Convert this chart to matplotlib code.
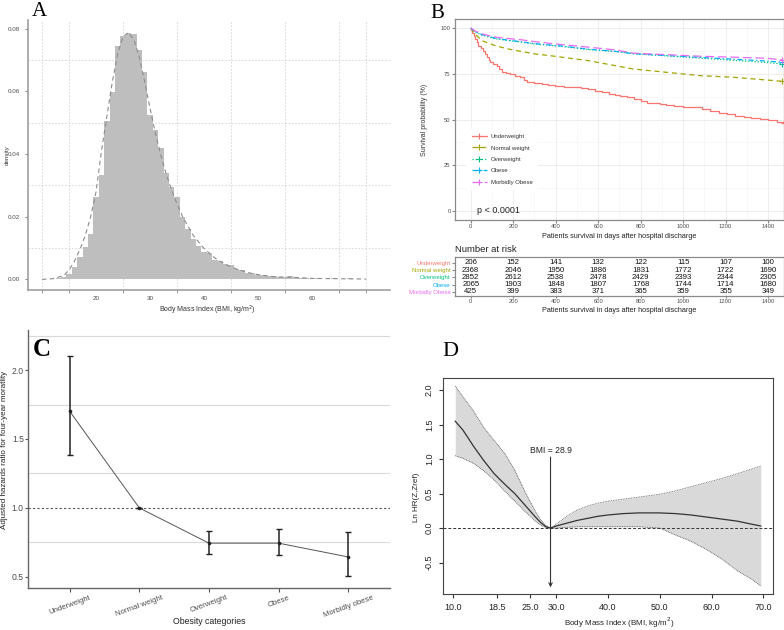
import matplotlib

matplotlib.use("Agg")

import matplotlib.pyplot as plt
import numpy as np
from matplotlib.lines import Line2D

# ---- data -----------------------------------------------------------------
# A: BMI histogram (bins of width 1, starting at 10.5) and density curve
hist_density = [
    0.0001, 0.0002, 0.0003, 0.0006, 0.0017, 0.0038, 0.0070, 0.0102, 0.0145, 0.0262,
    0.0333, 0.0506, 0.0599, 0.0745, 0.0777, 0.0787, 0.0783, 0.0732, 0.0663, 0.0524,
    0.0477, 0.0418, 0.0338, 0.0296, 0.0262, 0.0200, 0.0160, 0.0128, 0.0106, 0.0086,
    0.0084, 0.0062, 0.0058, 0.0048, 0.0046, 0.0032, 0.0031, 0.0021, 0.0020, 0.0014,
    0.0013, 0.0011, 0.0010, 0.0006, 0.0006, 0.0010, 0.0009, 0.0005, 0.0003, 0.0002,
    0.0003, 0.0002, 0.0002, 0.0003, 0.0002, 0.0002, 0.0003, 0.0002, 0.0002, 0.0002,
]
dens_x = [10, 12, 14, 15, 16, 17, 18, 19, 20, 21, 22, 23, 24, 25, 26, 27, 28, 29, 30,
          31, 32, 33, 34, 35, 36, 38, 40, 42, 44, 46, 48, 50, 53, 56, 60, 65, 70]
dens_y = [0.0, 0.0002, 0.0012, 0.0030, 0.0058, 0.0095, 0.0140, 0.0200, 0.0280, 0.0410,
          0.0520, 0.0630, 0.0720, 0.0775, 0.0788, 0.0765, 0.0710, 0.0630, 0.0545, 0.0465,
          0.0395, 0.0335, 0.0285, 0.0240, 0.0200, 0.0140, 0.0098, 0.0068, 0.0047, 0.0033,
          0.0022, 0.0015, 0.0008, 0.0007, 0.0003, 0.0002, 0.0001]

# B: Kaplan-Meier curves
groups = ["Underweight", "Normal weight", "Overweight", "Obese", "Morbidly Obese"]
group_colors = ["#F8766D", "#A3A500", "#00BF7D", "#00B0F6", "#E76BF3"]
under_t = [0, 1, 8, 14, 20, 28, 36, 48, 60, 68, 75, 84, 91, 105, 122, 134, 146, 165, 185,
           210, 232, 250, 264, 300, 335, 365, 397, 440, 492, 520, 554, 585, 618, 650, 680,
           704, 735, 767, 800, 830, 860, 892, 920, 955, 1000, 1050, 1090, 1128, 1170, 1207,
           1245, 1285, 1320, 1364, 1400, 1443, 1474]
under_s = [100, 99, 97.5, 95.8, 94.1, 92.2, 90.4, 89.0, 87.7, 86.0, 84.0, 82.6, 81.3, 80.5,
           79.5, 77.7, 75.8, 75.4, 74.9, 74.0, 73.1, 71.7, 70.3, 69.9, 69.4, 69.0, 68.5,
           68.0, 67.6, 67.1, 66.6, 65.7, 64.8, 64.1, 63.4, 63.0, 62.1, 61.2, 60.2, 59.3,
           58.9, 58.4, 58.0, 57.5, 57.0, 56.6, 55.7, 54.7, 53.8, 52.9, 52.0, 51.1, 50.6,
           50.2, 49.5, 48.9, 48.0]
km_t = [0, 20, 52, 115, 177, 240, 303, 397, 429, 554, 680, 767, 924, 1081, 1238, 1395, 1466]
normal_s = [100, 96.9, 93.2, 90.4, 88.6, 87.2, 85.9, 84.6, 84.1, 82.2, 79.5, 77.6, 75.8,
            74.0, 73.1, 71.6, 70.9]
over_s = [100, 98.0, 96.2, 94.2, 93.2, 92.3, 91.3, 90.3, 90.0, 88.3, 87.2, 86.0, 84.8,
          83.6, 82.4, 81.2, 80.4]
obese_s = [100, 98.2, 96.5, 94.5, 93.4, 92.5, 91.5, 90.5, 90.2, 88.5, 87.3, 86.0, 85.0,
           84.0, 83.0, 82.0, 81.3]
morbid_s = [100, 98.5, 96.9, 95.1, 94.3, 93.6, 92.6, 91.4, 91.0, 89.6, 88.1, 86.3, 85.5,
            84.6, 84.1, 83.5, 82.6]
risk_times = [0, 200, 400, 600, 800, 1000, 1200, 1400]
risk_table = [
    [206, 152, 141, 132, 122, 115, 107, 100],
    [2368, 2046, 1950, 1886, 1831, 1772, 1722, 1690],
    [2852, 2612, 2538, 2478, 2429, 2393, 2344, 2305],
    [2065, 1903, 1848, 1807, 1768, 1744, 1714, 1680],
    [425, 399, 383, 371, 365, 359, 355, 349],
]

# C: adjusted hazard ratios
categories = ["Underweight", "Normal weight", "Overweight", "Obese", "Morbidly obese"]
hr = [1.70, 1.00, 0.745, 0.745, 0.645]
hr_low = [1.385, 1.00, 0.665, 0.66, 0.51]
hr_high = [2.10, 1.00, 0.835, 0.85, 0.825]

# D: restricted cubic spline of ln HR
spline_x = [10.5, 12, 14, 16, 18, 20, 22, 24, 26, 27, 28, 28.9, 30, 32, 34, 36, 38, 40,
            43, 46, 50, 53, 56, 59, 62, 65, 67.5, 69.5]
spline_y = [1.55, 1.42, 1.19, 0.98, 0.79, 0.64, 0.50, 0.33, 0.16, 0.08, 0.02, 0.0, 0.03,
            0.07, 0.11, 0.14, 0.17, 0.19, 0.21, 0.22, 0.22, 0.21, 0.19, 0.16, 0.13, 0.10,
            0.06, 0.03]
spline_hi = [2.06, 1.90, 1.70, 1.46, 1.27, 1.09, 0.84, 0.52, 0.24, 0.12, 0.04, 0.0, 0.06,
             0.17, 0.26, 0.32, 0.36, 0.39, 0.42, 0.45, 0.49, 0.54, 0.60, 0.66, 0.72, 0.79,
             0.85, 0.90]
spline_lo = [1.05, 1.01, 0.94, 0.83, 0.70, 0.54, 0.39, 0.24, 0.10, 0.04, 0.01, 0.0, 0.0,
             0.01, 0.02, 0.02, 0.02, 0.02, 0.02, 0.02, 0.0, -0.10, -0.19, -0.31, -0.45,
             -0.62, -0.73, -0.84]
bmi_ref = 28.9

# ---- figure ---------------------------------------------------------------
W, H = 784, 630
fig = plt.figure(figsize=(W / 100, H / 100), dpi=100)
plt.rcParams["font.family"] = ["Liberation Sans", "DejaVu Sans"]
SERIF = "Liberation Serif"
TXT = "#4d4d4d"


def rect(l, t, r, b):
    return [l / W, 1 - b / H, (r - l) / W, (b - t) / H]


def ftext(x, y, s, **kw):
    fig.text(x / W, 1 - y / H, s, **kw)


# ---- A --------------------------------------------------------------------
ax = fig.add_axes(rect(28, 20, 390, 290))
hist_left = 10.5 + np.arange(len(hist_density))
ax.bar(hist_left, hist_density, width=1.0, align="edge", color="#bebebe", linewidth=0)
ax.plot(dens_x, dens_y, linestyle=(0, (4, 3)), color="#8c8c8c", linewidth=0.8)
ax.set_xlim(7.4, 74.4)
ax.set_ylim(-0.0034, 0.0828)
for s in ("top", "right"):
    ax.spines[s].set_visible(False)
for s in ("left", "bottom"):
    ax.spines[s].set_color("#a0a0a0")
    ax.spines[s].set_linewidth(1.2)
ax.set_xticks([20, 30, 40, 50, 60])
ax.set_xticks([10, 15, 25, 35, 45, 55, 65, 70], minor=True)
ax.set_yticks([0, 0.02, 0.04, 0.06, 0.08])
ax.set_yticklabels(["0.00", "0.02", "0.04", "0.06", "0.08"])
ax.set_yticks([0.01, 0.03, 0.05, 0.07], minor=True)
ax.tick_params(axis="x", which="major", length=0, labelsize=4.5, labelcolor=TXT, pad=4)
ax.tick_params(axis="x", which="minor", length=2, color="#888888")
ax.tick_params(axis="y", which="major", length=2, labelsize=4.5, labelcolor=TXT, color="#888888")
ax.tick_params(axis="y", which="minor", length=0)
ax.grid(which="minor", linestyle=(0, (2, 2)), color="#d4d4d4", linewidth=0.6)
ax.set_axisbelow(True)
ftext(7, 155, "density", rotation=90, fontsize=4.5, color="#333333", ha="center", va="center")
ftext(207, 310, "Body Mass Index (BMI, kg/m$^2$)", fontsize=5, color="#333333",
      ha="center", va="center")
ftext(32, 11, "A", family=SERIF, fontsize=15, va="center")

# ---- B --------------------------------------------------------------------
axb = fig.add_axes(rect(455, 19, 784, 220))
styles = ["-", (0, (4, 3)), (0, (1, 1.5)), (0, (4, 2, 1, 2)), (0, (7, 3))]
curves = [(under_t, under_s), (km_t, normal_s), (km_t, over_s), (km_t, obese_s),
          (km_t, morbid_s)]
handles = []
for name, col, ls, (t, sv) in zip(groups, group_colors, styles, curves):
    step = "steps-post" if name == "Underweight" else "default"
    axb.plot(t, sv, color=col, linestyle=ls, linewidth=0.9, drawstyle=step)
    axb.plot(t[-1], sv[-1], marker="+", color=col, markersize=4, markeredgewidth=0.8)
    handles.append(Line2D([0], [0], color=col, linestyle=ls, linewidth=0.9, marker="+",
                          markersize=4, markeredgewidth=0.8))
axb.set_xlim(-74, 1475)
axb.set_ylim(-5, 105)
axb.set_xticks(risk_times)
axb.set_xticks(np.arange(100, 1500, 200), minor=True)
axb.set_yticks([0, 25, 50, 75, 100])
axb.set_yticks([12.5, 37.5, 62.5, 87.5], minor=True)
axb.tick_params(which="major", length=2, labelsize=4.2, labelcolor=TXT, color="#888888",
                pad=1.2)
axb.tick_params(which="minor", length=0)
axb.grid(which="major", color="#ebebeb", linewidth=0.6)
axb.grid(which="minor", color="#f3f3f3", linewidth=0.4)
axb.set_axisbelow(True)
for s in axb.spines.values():
    s.set_color("#8a8a8a")
    s.set_linewidth(0.9)
leg = axb.legend(handles, groups, loc="upper left", bbox_to_anchor=(0.025, 0.47),
                 fontsize=4.3, frameon=True, handlelength=2.6, labelspacing=1.05,
                 borderpad=0.9, handletextpad=0.6)
leg.get_frame().set_edgecolor("none")
leg.get_frame().set_facecolor("white")
leg.get_frame().set_alpha(1)
for txt in leg.get_texts():
    txt.set_color("#333333")
axb.text(30, 0, "p < 0.0001", fontsize=6.5, color="#222222", va="center", ha="left")
ftext(424, 120, "Survival probability (%)", rotation=90, fontsize=5, color="#333333",
      ha="center", va="center")
ftext(619, 236, "Patients survival in days after hospital discharge", fontsize=5.2,
      color="#222222", ha="center", va="center")
ftext(437, 14, "B", family=SERIF, fontsize=15, va="center", ha="center")

# risk table
axt = fig.add_axes(rect(455, 257, 784, 296))
for i, row in enumerate(risk_table):
    for t, n in zip(risk_times, row):
        axt.text(t, i, str(n), fontsize=5.6, ha="center", va="center", color="#111111")
axt.set_xlim(-74, 1475)
axt.set_ylim(4.55, -0.78)
axt.set_xticks(risk_times)
axt.set_yticks(range(len(groups)))
axt.set_yticklabels(groups)
for lbl, col in zip(axt.get_yticklabels(), group_colors):
    lbl.set_color(col)
axt.tick_params(axis="y", length=2, labelsize=4.3, pad=1, color="#888888")
axt.tick_params(axis="x", length=1.5, labelsize=4.2, labelcolor=TXT, color="#888888", pad=0.8)
axt.grid(axis="x", color="#ebebeb", linewidth=0.6)
axt.set_axisbelow(True)
for s in axt.spines.values():
    s.set_color("#8a8a8a")
    s.set_linewidth(0.9)
ftext(455, 250, "Number at risk", fontsize=6.8, color="#222222", va="center")
ftext(619, 311, "Patients survival in days after hospital discharge", fontsize=5.2,
      color="#222222", ha="center", va="center")

# ---- C --------------------------------------------------------------------
axc = fig.add_axes(rect(28, 330, 390, 588))
xc = np.arange(1, len(categories) + 1)
axc.axhline(1.0, linestyle=(0, (2, 2)), color="#555555", linewidth=0.8)
axc.plot(xc, hr, color="#555555", linewidth=0.7)
err = [np.subtract(hr, hr_low), np.subtract(hr_high, hr)]
axc.errorbar(xc, hr, yerr=err, fmt="o", color="#222222", ecolor="#222222", markersize=1.6,
             elinewidth=1.1, capsize=2, capthick=1.0)
axc.set_xlim(0.4, 5.6)
axc.set_ylim(0.42, 2.29)
axc.set_xticks(xc)
axc.set_xticklabels(categories, rotation=20, ha="center")
axc.set_yticks([0.5, 1.0, 1.5, 2.0])
axc.set_yticks([0.75, 1.25, 1.75, 2.25], minor=True)
axc.grid(axis="y", which="minor", color="#d9d9d9", linewidth=0.8)
axc.set_axisbelow(True)
axc.tick_params(axis="y", which="major", length=2, labelsize=6.2, labelcolor=TXT,
                color="#555555", pad=1)
axc.tick_params(axis="x", which="major", length=3, labelsize=5.6, labelcolor=TXT,
                color="#555555", pad=1.5)
axc.tick_params(which="minor", length=0)
for s in ("top", "right"):
    axc.spines[s].set_visible(False)
for s in ("left", "bottom"):
    axc.spines[s].set_color("#666666")
    axc.spines[s].set_linewidth(1.0)
ftext(209, 622, "Obesity categories", fontsize=6.3, color="#222222", ha="center", va="center")
ftext(4.5, 450, "Adjusted hazards ratio for four-year moratlity", rotation=90, fontsize=5.8,
      color="#222222", ha="center", va="center")
ftext(33, 350, "C", family=SERIF, fontsize=18, fontweight="bold", va="center")

# ---- D --------------------------------------------------------------------
axd = fig.add_axes(rect(443, 378, 773, 594))
axd.fill_between(spline_x, spline_lo, spline_hi, color="#d9d9d9", linewidth=0)
axd.plot(spline_x, spline_hi, linestyle=(0, (1, 1)), color="#555555", linewidth=0.6)
axd.plot(spline_x, spline_lo, linestyle=(0, (1, 1)), color="#555555", linewidth=0.6)
axd.plot(spline_x, spline_y, color="#333333", linewidth=0.9)
axd.axhline(0, linestyle=(0, (3, 2)), color="#333333", linewidth=0.7)
axd.annotate("", xy=(bmi_ref, -0.86), xytext=(bmi_ref, 1.03),
             arrowprops=dict(arrowstyle="->", color="#333333", linewidth=0.8,
                             mutation_scale=6, shrinkA=0, shrinkB=0))
axd.text(bmi_ref, 1.125, f"BMI = {bmi_ref}", fontsize=6.2, ha="center", va="center",
         color="#222222")
axd.set_xlim(8.14, 71.86)
axd.set_ylim(-0.956, 2.176)
xt = [10, 18.5, 25, 30, 40, 50, 60, 70]
axd.set_xticks(xt)
axd.set_xticklabels([f"{v:.1f}" for v in xt])
yt = [-0.5, 0.0, 0.5, 1.0, 1.5, 2.0]
axd.set_yticks(yt)
axd.set_yticklabels([f"{v:.1f}" for v in yt], rotation=90, va="center")
axd.tick_params(length=3, labelsize=6.5, labelcolor="#222222", color="#333333")
for s in axd.spines.values():
    s.set_color("#444444")
    s.set_linewidth(0.8)
ftext(619, 623, "Body Mass Index (BMI, kg/m$^2$)", fontsize=5.8, color="#222222",
      ha="center", va="center")
ftext(417, 497, "Ln HR(Z,Zref)", rotation=90, fontsize=5.8, color="#222222",
      ha="center", va="center")
ftext(442, 352, "D", family=SERIF, fontsize=16, va="center")

fig.savefig("out.png", dpi=100)
plt.close(fig)
